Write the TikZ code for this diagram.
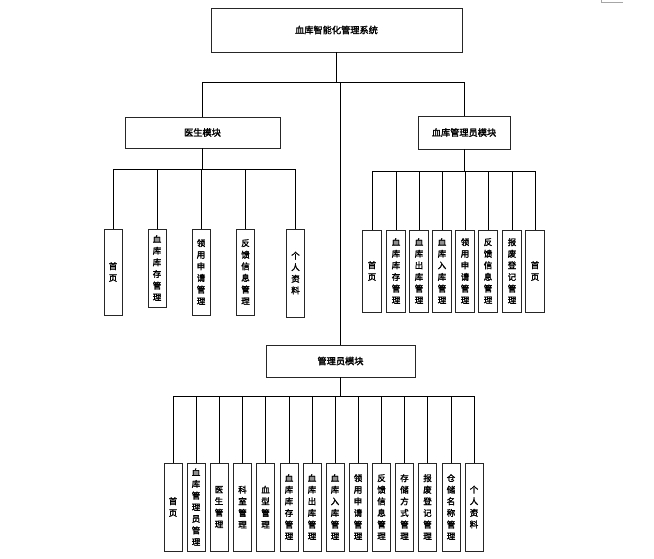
\documentclass[tikz,border=0pt]{standalone}
\usepackage{fontspec}
\newfontfamily\cjk{Noto Sans CJK SC}[AutoFakeBold=2]
\begin{document}
\begin{tikzpicture}[x=1pt,y=-1pt,
  box/.style={draw=black!85, line width=0.9pt, fill=white, inner sep=0pt,
    font=\cjk\bfseries\fontsize{9.2}{9}\selectfont},
  vbox/.style={draw=black!85, line width=0.9pt, fill=white, inner sep=0pt,
    minimum width=18pt, align=center,
    font=\cjk\bfseries\fontsize{8.5}{11.6}\selectfont},
  conn/.style={draw=black, line width=0.7pt},
  cornermark/.style={draw=black!35, line width=0.6pt}]
\useasboundingbox (0,0) rectangle (654,558);
\draw[cornermark] (601,0) -- (601,2) -- (623,2);

% main boxes
\node[box, minimum width=251pt, minimum height=44pt] (sys) at (336.5,30) {血库智能化管理系统};
\node[box, minimum width=155pt, minimum height=31pt] (doc) at (202.5,132.5) {医生模块};
\node[box, minimum width=92pt, minimum height=33pt] (bad) at (464,132.5) {血库管理员模块};
\node[box, minimum width=149pt, minimum height=32pt] (adm) at (340.5,361) {管理员模块};

% doctor children
\node[vbox, minimum height=86pt] (d1) at (113,272) {首\\页};
\node[vbox, minimum height=78pt] (d2) at (157,268) {血\\库\\库\\存\\管\\理};
\node[vbox, minimum height=86pt] (d3) at (201,272) {领\\用\\申\\请\\管\\理};
\node[vbox, minimum height=86pt] (d4) at (245.5,272) {反\\馈\\信\\息\\管\\理};
\node[vbox, minimum height=88pt] (d5) at (295.5,273) {个\\人\\资\\料};

% blood-bank admin children
\node[vbox, minimum height=82pt, minimum width=19pt] (b1) at (372,271) {首\\页};
\node[vbox, minimum height=82pt, minimum width=19pt] (b2) at (396,271) {血\\库\\库\\存\\管\\理};
\node[vbox, minimum height=82pt, minimum width=19pt] (b3) at (419,271) {血\\库\\出\\库\\管\\理};
\node[vbox, minimum height=82pt, minimum width=19pt] (b4) at (442,271) {血\\库\\入\\库\\管\\理};
\node[vbox, minimum height=82pt, minimum width=19pt] (b5) at (465,271) {领\\用\\申\\请\\管\\理};
\node[vbox, minimum height=82pt, minimum width=19pt] (b6) at (488,271) {反\\馈\\信\\息\\管\\理};
\node[vbox, minimum height=82pt, minimum width=19pt] (b7) at (512,271) {报\\废\\登\\记\\管\\理};
\node[vbox, minimum height=82pt, minimum width=19pt] (b8) at (535,271) {首\\页};

% admin children
\node[vbox, minimum height=88pt] (a1) at (173,507) {首\\页};
\node[vbox, minimum height=88pt] (a2) at (196,507) {血\\库\\管\\理\\员\\管\\理};
\node[vbox, minimum height=88pt] (a3) at (219,507) {医\\生\\管\\理};
\node[vbox, minimum height=88pt] (a4) at (242.5,507) {科\\室\\管\\理};
\node[vbox, minimum height=88pt] (a5) at (265.5,507) {血\\型\\管\\理};
\node[vbox, minimum height=88pt] (a6) at (289,507) {血\\库\\库\\存\\管\\理};
\node[vbox, minimum height=88pt] (a7) at (312,507) {血\\库\\出\\库\\管\\理};
\node[vbox, minimum height=88pt] (a8) at (335,507) {血\\库\\入\\库\\管\\理};
\node[vbox, minimum height=88pt] (a9) at (358,507) {领\\用\\申\\请\\管\\理};
\node[vbox, minimum height=88pt] (a10) at (381.5,507) {反\\馈\\信\\息\\管\\理};
\node[vbox, minimum height=88pt] (a11) at (404.5,507) {存\\储\\方\\式\\管\\理};
\node[vbox, minimum height=88pt] (a12) at (427.5,507) {报\\废\\登\\记\\管\\理};
\node[vbox, minimum height=88pt] (a13) at (451,507) {仓\\储\\名\\称\\管\\理};
\node[vbox, minimum height=88pt] (a14) at (474,507) {个\\人\\资\\料};

% bus junctions
\coordinate (j0) at (336.5,82);
\coordinate (j1) at (202.5,169);
\coordinate (j2) at (464,171);
\coordinate (j3) at (340.5,396);

% connectors
\draw[conn] (sys.south) -- (j0) -| (doc.north);
\draw[conn] (j0) -| (bad.north);
\draw[conn] (j0) -| (adm.north);
\foreach \i in {1,...,5} \draw[conn] (doc.south) -- (j1) -| (d\i.north);
\foreach \i in {1,...,8} \draw[conn] (bad.south) -- (j2) -| (b\i.north);
\foreach \i in {1,...,14} \draw[conn] (adm.south) -- (j3) -| (a\i.north);
\end{tikzpicture}
\end{document}
